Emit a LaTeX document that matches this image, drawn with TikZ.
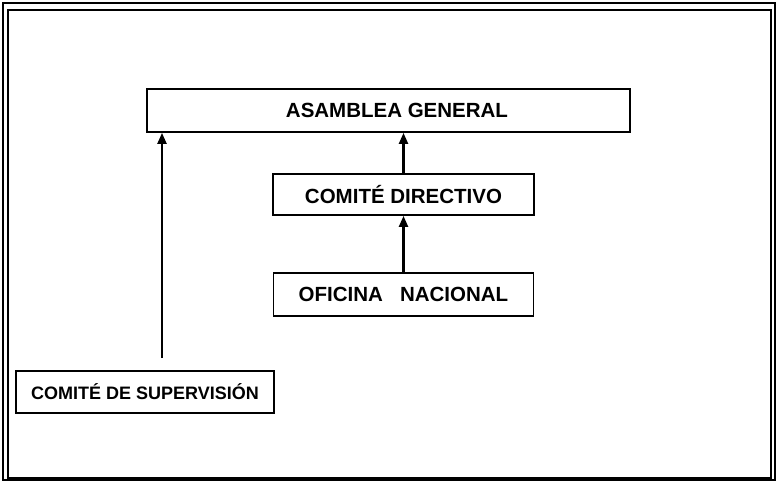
\documentclass[tikz,border=0pt]{standalone}
\usepackage{fontspec}
\setmainfont{Liberation Sans}
\usetikzlibrary{arrows.meta}

\begin{document}
\begin{tikzpicture}[x=1pt,y=-1pt,
    arr/.style={draw,line width=2.2pt,-{Triangle[length=11pt,width=9pt]}}]

        \useasboundingbox (0,0) rectangle (776,483);

        % marco
        \draw[line width=1.4pt] (3,3) rectangle (775,480);
        \draw[line width=1.4pt] (8,10) rectangle (771,478);

        \begin{scope}[every node/.style={rectangle,draw,line width=1.8pt,inner sep=0pt,
            font=\bfseries\fontsize{20.5}{24}\selectfont}]
          \node[minimum width=483,minimum height=43] (ag) at (388.5,110.5) {\hspace*{17pt}ASAMBLEA GENERAL};
          \node[minimum width=261,minimum height=41] (cd) at (403.5,194.5) {COMITÉ DIRECTIVO};
          \node[minimum width=260,minimum height=43] (on) at (403.5,294.5) {OFICINA\ \ \ NACIONAL};
          \node[minimum width=258,minimum height=42,
            font=\bfseries\fontsize{18}{22}\selectfont] (cs) at (145,392) {COMITÉ DE SUPERVISIÓN};
        \end{scope}

        \coordinate (cs0) at (162,358);

        \path[arr] (on) -- (cd);
        \path[arr] (cd) -- (cd |- ag.south);
        \path[arr] (cs0) -- (cs0 |- ag.south);
        %\path[arr] (cs) -- (ag);

      \end{tikzpicture}
\end{document}
